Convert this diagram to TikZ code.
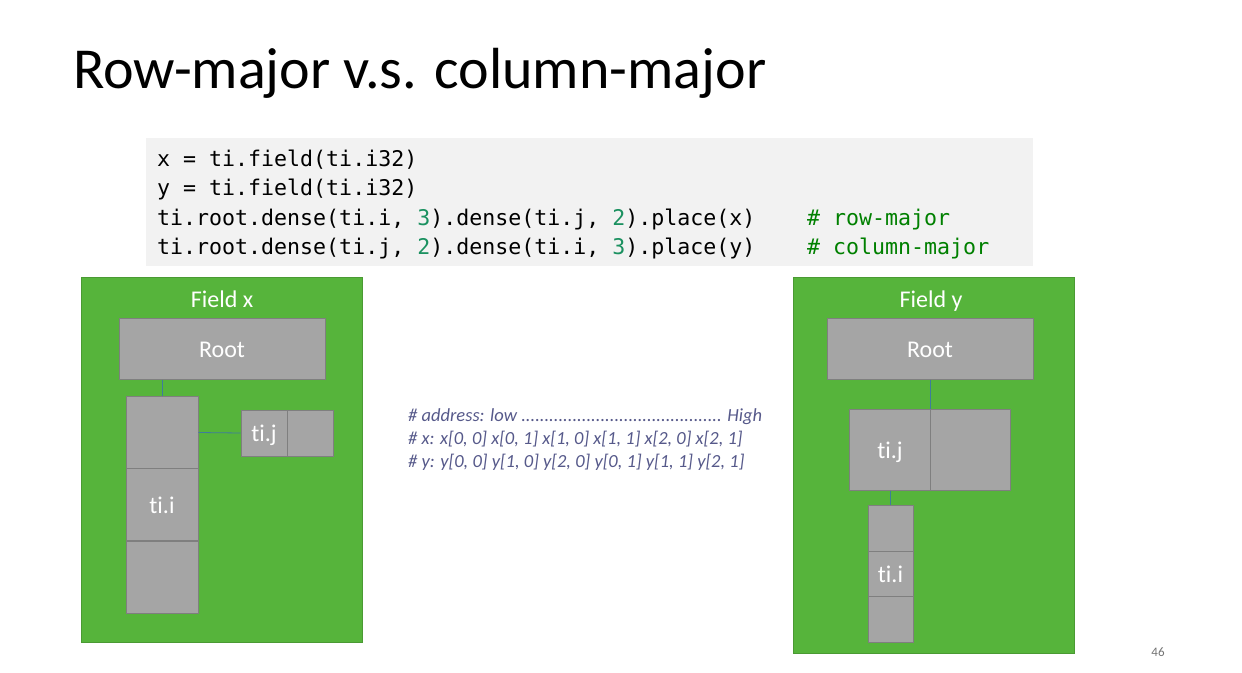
\documentclass[tikz,border=0pt]{standalone}
\usepackage{fontspec}
\setmainfont{Carlito}[Ligatures=NoCommon]
\setmonofont{DejaVu Sans Mono}
\definecolor{fieldgreen}{HTML}{56B43B}
\definecolor{fieldedge}{HTML}{4A9A33}
\definecolor{cellgray}{HTML}{A5A5A5}
\definecolor{celledge}{HTML}{7F7F7F}
\definecolor{numgreen}{HTML}{1B9160}
\definecolor{cmtgreen}{HTML}{008000}
\definecolor{notecolor}{HTML}{56598A}
\definecolor{linkcolor}{HTML}{3E7C9C}

\begin{document}
\begin{tikzpicture}[x=1pt, y=-1pt,
		cell/.style={draw=celledge, fill=cellgray, line width=1pt, inner sep=0pt, text=white, text height=17pt, text depth=0pt, font=\fontsize{24}{28}\selectfont},
		field/.style={draw=fieldedge, fill=fieldgreen, line width=1pt},
		fieldlabel/.style={anchor=base, inner sep=0pt, text=white, font=\fontsize{24}{28}\selectfont},
		link/.style={linkcolor, line width=0.8pt},
		code/.style={anchor=base west, inner sep=0pt, font=\fontsize{21.6}{25}\ttfamily},
		note/.style={anchor=base west, inner sep=0pt, text=notecolor, font=\fontsize{18.5}{22}\selectfont\itshape}]
		\useasboundingbox (0,0) rectangle (1242,672);
		\node[anchor=base west, inner sep=0pt, font=\fontsize{58}{66}\selectfont] (title) at (73,88) {Row-major v.s. column-major};
		\fill[black!5] (146,138) rectangle (1033,266);
		\node[code] (c1) at (157,166) {x = ti.field(ti.i32)};
		\node[code] (c2) at (157,195) {y = ti.field(ti.i32)};
		\node[code] (c3) at (157,225) {ti.root.dense(ti.i, {\color{numgreen}3}).dense(ti.j, {\color{numgreen}2}).place(x)};
		\node[code] (c4) at (157,254) {ti.root.dense(ti.j, {\color{numgreen}2}).dense(ti.i, {\color{numgreen}3}).place(y)};
		\node[code, text=cmtgreen] (m3) at (807,225) {\# row-major};
		\node[code, text=cmtgreen] (m4) at (807,254) {\# column-major};
		% field x
		\draw[field] (81,277) rectangle (362,642);
		\node[fieldlabel] (fx) at (222,307) {Field x};
		\node[cell, minimum width=206pt, minimum height=61pt] (rootx) at (222,348.5) {Root};
		\node[cell, minimum width=72pt, minimum height=72pt] (tiix1) at (162,432.5) {};
		\node[cell, minimum width=72pt, minimum height=72pt] (tiix2) at (162,504.5) {ti.i};
		\node[cell, minimum width=72pt, minimum height=72pt] (tiix3) at (162,577) {};
		\node[cell, minimum width=46pt, minimum height=46pt] (tijx1) at (264,433) {ti.j};
		\node[cell, minimum width=46pt, minimum height=46pt] (tijx2) at (310,433) {};
		\draw[link] (tiix1.north |- rootx.south) -- (tiix1.north);
		\draw[link] (tiix1.east) -- (tijx1.west);
		% field y
		\draw[field] (793,277) rectangle (1074,653);
		\node[fieldlabel] (fy) at (931,307) {Field y};
		\node[cell, minimum width=206pt, minimum height=61pt] (rooty) at (930,348.5) {Root};
		\node[cell, minimum width=80.5pt, minimum height=81pt] (tijy1) at (890,449.5) {ti.j};
		\node[cell, minimum width=80.5pt, minimum height=81pt] (tijy2) at (970.5,449.5) {};
		\node[cell, minimum width=45pt, minimum height=45.5pt] (tiiy1) at (890.5,528.5) {};
		\node[cell, minimum width=45pt, minimum height=45.5pt] (tiiy2) at (890.5,574) {ti.i};
		\node[cell, minimum width=45pt, minimum height=45.5pt] (tiiy3) at (890.5,619.5) {};
		\draw[link] (tijy1.north east |- rooty.south) -- (tijy1.north east);
		\draw[link] (tijy1.south) -- (tijy1.south |- tiiy1.north);
		% address order
		\node[note] (n1) at (408,421) {\# address: low ........................................... High};
		\node[note] (n2) at (408,444) {\# x: x[0, 0] x[0, 1] x[1, 0] x[1, 1] x[2, 0] x[2, 1]};
		\node[note] (n3) at (408,467) {\# y: y[0, 0] y[1, 0] y[2, 0] y[0, 1] y[1, 1] y[2, 1]};
		\node[text=black!55, font=\fontsize{13}{15}\selectfont] (page) at (1158,652) {46};
	\end{tikzpicture}
\end{document}
